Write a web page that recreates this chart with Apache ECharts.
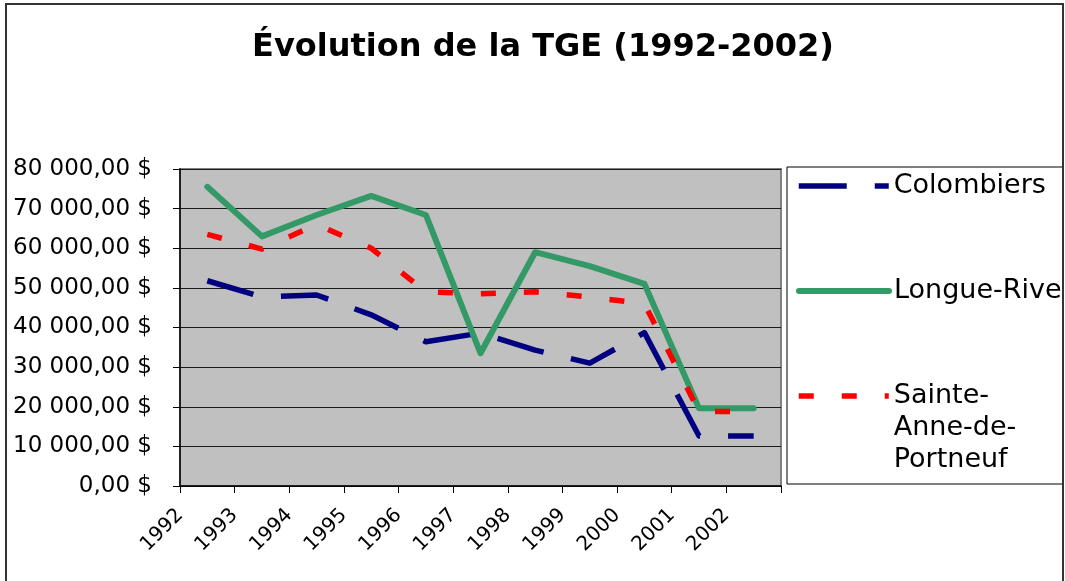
<!DOCTYPE html>
<html>
<head>
<meta charset="utf-8">
<script src="https://cdn.jsdelivr.net/npm/echarts@6/dist/echarts.min.js"></script>
<style>
html,body{margin:0;padding:0;background:#fff;}
#chart{width:1065px;height:581px;}
</style>
</head>
<body>
<div id="chart"></div>
<script>
// ---- data ----
const years = ['1992','1993','1994','1995','1996','1997','1998','1999','2000','2001','2002'];
const colombiers = [51800, 47700, 48200, 43200, 36400, 38600, 34300, 31000, 38700, 12600, 12600];
const longueRive = [75500, 63000, 68400, 73200, 68400, 33500, 59000, 55500, 51000, 19600, 19600];
const sainteAnne = [63500, 59800, 66000, 60000, 49000, 48500, 49000, 47700, 46000, 18800, 18800];
const yTickLabels = ['0,00 $','10 000,00 $','20 000,00 $','30 000,00 $','40 000,00 $','50 000,00 $','60 000,00 $','70 000,00 $','80 000,00 $'];
const seriesNames = ['Colombiers', 'Longue-Rive', 'Sainte-Anne-de-Portneuf'];
const legendLines = {'Sainte-Anne-de-Portneuf': ' \n \nSainte-\nAnne-de-\nPortneuf'};

const FONT = 'DejaVu Sans';
const BLUE = '#000080', GREEN = '#339966', RED = '#FF0000';
const chart = echarts.init(document.getElementById('chart'), null, {renderer: 'canvas'});

const hiddenSymbol = {color: 'rgba(0,0,0,0)', borderColor: 'rgba(0,0,0,0)', borderWidth: 0, opacity: 0};
function legendFor(idx, top, lineStyle) {
  return {
    orient: 'vertical', left: 796, top: top, padding: 0, itemWidth: 90, itemHeight: 14,
    selectedMode: false,
    data: [seriesNames[idx]],
    itemStyle: hiddenSymbol,
    lineStyle: lineStyle,
    formatter: function (name) { return legendLines[name] || name; },
    textStyle: {fontFamily: FONT, fontSize: 27, color: '#000', lineHeight: 32}
  };
}

chart.setOption({
  animation: false,
  backgroundColor: '#fff',
  title: {
    text: 'Évolution de la TGE (1992-2002)',
    left: 538, top: 27, textAlign: 'center',
    textStyle: {fontFamily: FONT, fontWeight: 'bold', fontSize: 32, color: '#000'}
  },
  grid: {
    left: 180, top: 169, width: 601, height: 317,
    show: true, backgroundColor: '#C0C0C0', borderColor: '#808080', borderWidth: 2
  },
  legend: [
    legendFor(0, 170, {color: BLUE, width: 5.5, type: [48, 28], cap: 'butt', inactiveWidth: 5.5}),
    legendFor(1, 275, {color: GREEN, width: 6, type: 'solid', cap: 'round', inactiveWidth: 6}),
    legendFor(2, 316, {color: RED, width: 5.5, type: [15, 28], cap: 'butt', inactiveWidth: 5.5})
  ],
  xAxis: [
    {
      type: 'category', data: years, boundaryGap: true,
      axisLine: {show: true, lineStyle: {color: '#000', width: 1.5}},
      axisTick: {show: true, inside: false, length: 7, lineStyle: {color: '#000'}},
      axisLabel: {show: false},
      splitLine: {show: false}
    },
    {
      type: 'category', data: years.concat(['']), boundaryGap: false, position: 'bottom',
      axisLine: {show: false}, axisTick: {show: false}, splitLine: {show: false},
      axisLabel: {show: true, interval: 0, rotate: 45, margin: 26,
        fontFamily: FONT, fontSize: 20, color: '#000'}
    }
  ],
  yAxis: {
    type: 'value', min: 0, max: 80000, interval: 10000,
    axisLine: {show: true, lineStyle: {color: '#000', width: 1.5}},
    axisTick: {show: true, inside: false, length: 7, lineStyle: {color: '#000'}},
    axisLabel: {margin: 28, fontFamily: FONT, fontSize: 23, color: '#000',
      formatter: function (v) { return yTickLabels[Math.round(v / 10000)]; }},
    splitLine: {show: true, lineStyle: {color: '#1a1a1a', width: 1.2}}
  },
  series: [
    {
      name: seriesNames[0], type: 'line', data: colombiers, xAxisIndex: 0,
      symbol: 'none', color: BLUE,
      lineStyle: {color: BLUE, width: 5.5, type: [48, 28], cap: 'butt', join: 'round'}
    },
    {
      name: seriesNames[1], type: 'line', data: longueRive, xAxisIndex: 0,
      symbol: 'none', color: GREEN,
      lineStyle: {color: GREEN, width: 6, type: 'solid', cap: 'round', join: 'round'}
    },
    {
      name: seriesNames[2], type: 'line', data: sainteAnne, xAxisIndex: 0,
      symbol: 'none', color: RED,
      lineStyle: {color: RED, width: 5.5, type: [15, 28], cap: 'butt', join: 'round'}
    }
  ],
  graphic: [
    {type: 'rect', z: -1, shape: {x: 787, y: 167, width: 276, height: 317},
      style: {fill: '#fff', stroke: '#000', lineWidth: 1}},
    {type: 'rect', z: 100, shape: {x: 6, y: 4, width: 1057, height: 600},
      style: {fill: 'none', stroke: '#333', lineWidth: 2}}
  ]
});
</script>
</body>
</html>
